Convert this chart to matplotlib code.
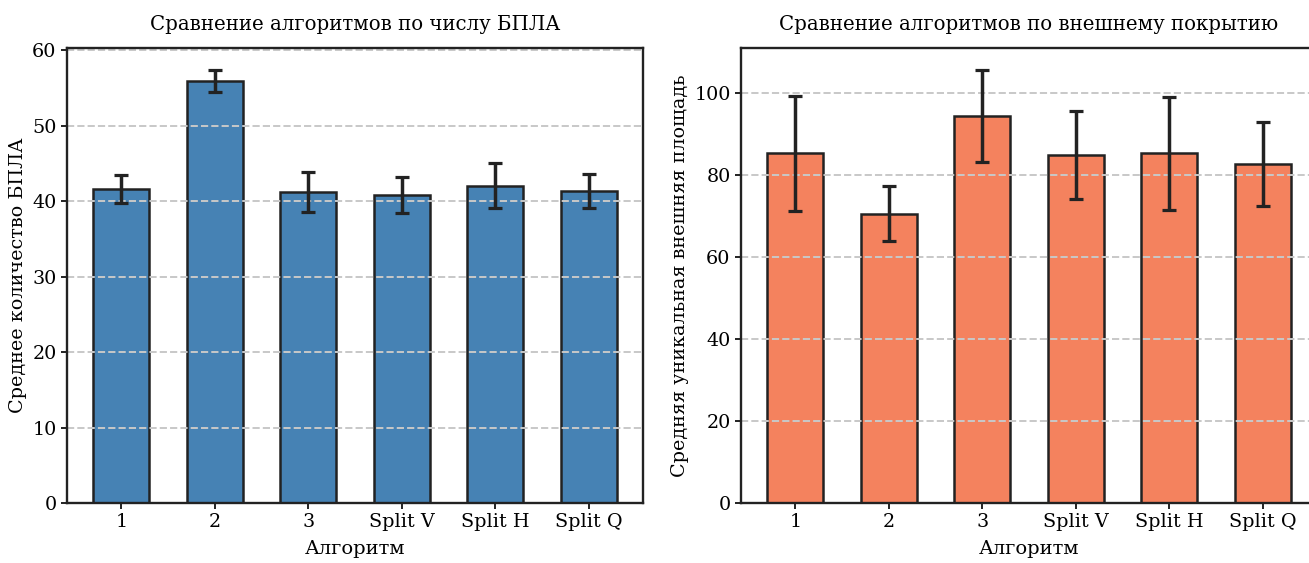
import matplotlib
matplotlib.use("Agg")
import matplotlib.pyplot as plt
import numpy as np

# ---------------------------------------------------------------------------
algorithms = ["1", "2", "3", "Split V", "Split H", "Split Q"]

uav_mean = [41.6, 55.95, 41.2, 40.8, 42.05, 41.35]
uav_err  = [1.85, 1.45, 2.7, 2.4, 3.0, 2.3]

cover_mean = [85.3, 70.6, 94.4, 84.9, 85.3, 82.7]
cover_err  = [14.05, 6.7, 11.3, 10.7, 13.85, 10.2]

BLUE   = "#4682B4"
ORANGE = "#F4825E"
DARK   = "#222222"

plt.rcParams["font.family"] = ["DejaVu Serif"]
plt.rcParams["font.size"] = 13


def draw_panel(ax, means, errs, color, title, ylabel):
    x = np.arange(len(algorithms))
    ax.bar(x, means, width=0.6, color=color, edgecolor=DARK, linewidth=1.8)
    ax.errorbar(x, means, yerr=errs, fmt="none", ecolor=DARK,
                elinewidth=2.5, capsize=5, capthick=2.3)
    ax.set_xticks(x)
    ax.set_xticklabels(algorithms)
    ax.set_title(title, fontsize=14.2, pad=13)
    ax.set_xlabel("Алгоритм", fontsize=14, labelpad=6)
    ax.set_ylabel(ylabel, fontsize=13.8)
    ax.yaxis.grid(True, linestyle="--", color="#c8c8c8", linewidth=1.4)
    for sp in ax.spines.values():
        sp.set_linewidth(1.7)
        sp.set_color(DARK)
    ax.tick_params(axis="both", labelsize=13.8, width=1.4, length=4, color=DARK)
    ax.set_ylim(bottom=0)


fig = plt.figure(figsize=(13.09, 5.63), dpi=100)
ax1 = fig.add_axes([0.0512, 0.1066, 0.440, 0.808])
ax2 = fig.add_axes([0.5661, 0.1066, 0.440, 0.808])

draw_panel(ax1, uav_mean, uav_err, BLUE,
           "Сравнение алгоритмов по числу БПЛА", "Среднее количество БПЛА")
draw_panel(ax2, cover_mean, cover_err, ORANGE,
           "Сравнение алгоритмов по внешнему покрытию",
           "Средняя уникальная внешняя площадь")

fig.savefig("out.png", dpi=100)
plt.close(fig)
